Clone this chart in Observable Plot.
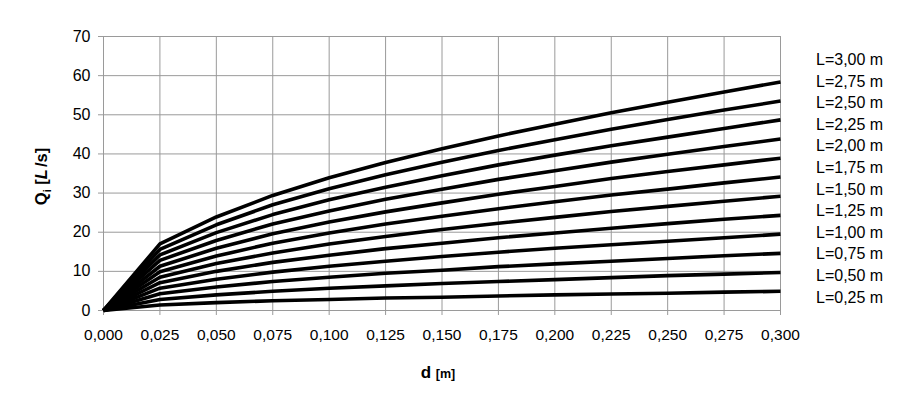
<!DOCTYPE html>
<html>
<head>
<meta charset="utf-8">
<script src="https://cdn.jsdelivr.net/npm/d3@7"></script>
<script src="https://cdn.jsdelivr.net/npm/@observablehq/plot@0.6"></script>
<style>
  html, body { margin: 0; padding: 0; background: #fff; }
  #wrap { position: relative; width: 913px; height: 395px; font-family: "Liberation Sans", Arial, sans-serif; }
  #legend { position: absolute; left: 816px; top: 49px; font-size: 16px; line-height: 21.6px; color: #000; white-space: nowrap; }
</style>
</head>
<body>
<div id="wrap"><div id="legend"></div></div>
<script>
// x values: d [m]
const dValues = [0, 0.025, 0.05, 0.075, 0.1, 0.125, 0.15, 0.175, 0.2, 0.225, 0.25, 0.275, 0.3];
// series names (L in m), top to bottom
const lengthLabels = ["3,00", "2,75", "2,50", "2,25", "2,00", "1,75", "1,50", "1,25", "1,00", "0,75", "0,50", "0,25"];
// Qi [L/s] for each L
const qL300 = [0, 17.0, 23.9, 29.4, 33.9, 37.8, 41.3, 44.6, 47.6, 50.5, 53.2, 55.8, 58.4];
const qL275 = [0, 15.6, 21.9, 27.0, 31.1, 34.7, 37.9, 40.9, 43.6, 46.3, 48.8, 51.2, 53.5];
const qL250 = [0, 14.2, 19.9, 24.5, 28.3, 31.5, 34.4, 37.2, 39.7, 42.1, 44.3, 46.5, 48.7];
const qL225 = [0, 12.8, 17.9, 22.1, 25.4, 28.4, 31.0, 33.5, 35.7, 37.9, 39.9, 41.9, 43.8];
const qL200 = [0, 11.3, 15.9, 19.6, 22.6, 25.2, 27.5, 29.7, 31.7, 33.7, 35.5, 37.2, 38.9];
const qL175 = [0, 9.9, 13.9, 17.2, 19.8, 22.1, 24.1, 26.0, 27.8, 29.5, 31.0, 32.6, 34.1];
const qL150 = [0, 8.5, 12.0, 14.7, 17.0, 18.9, 20.7, 22.3, 23.8, 25.3, 26.6, 27.9, 29.2];
const qL125 = [0, 7.1, 10.0, 12.3, 14.1, 15.8, 17.2, 18.6, 19.8, 21.0, 22.2, 23.3, 24.3];
const qL100 = [0, 5.7, 8.0, 9.8, 11.3, 12.6, 13.8, 14.9, 15.9, 16.8, 17.7, 18.6, 19.5];
const qL075 = [0, 4.3, 6.0, 7.4, 8.5, 9.5, 10.3, 11.2, 11.9, 12.6, 13.3, 14.0, 14.6];
const qL050 = [0, 2.8, 4.0, 4.9, 5.7, 6.3, 6.9, 7.4, 7.9, 8.4, 8.9, 9.3, 9.7];
const qL025 = [0, 1.4, 2.0, 2.5, 2.8, 3.2, 3.4, 3.7, 4.0, 4.2, 4.4, 4.7, 4.9];
// tick values
const xTicks = [0, 0.025, 0.05, 0.075, 0.1, 0.125, 0.15, 0.175, 0.2, 0.225, 0.25, 0.275, 0.3];
const yTicks = [0, 10, 20, 30, 40, 50, 60, 70];

const seriesValues = [qL300, qL275, qL250, qL225, qL200, qL175, qL150, qL125, qL100, qL075, qL050, qL025];
const rows = [];
seriesValues.forEach((vals, i) => {
  vals.forEach((q, j) => rows.push({L: lengthLabels[i], d: dValues[j], q}));
});

const fmtX = d => d3.format(".3f")(d).replace(".", ",");
const gridColor = "#9a9a9a";

const chart = Plot.plot({
  width: 913,
  height: 395,
  marginLeft: 103,
  marginRight: 133,
  marginTop: 36,
  marginBottom: 85,
  style: { fontFamily: "'Liberation Sans', Arial, sans-serif", fontSize: "15.5px", color: "#000", background: "#fff", overflow: "visible" },
  x: { domain: [0, 0.3] },
  y: { domain: [0, 70] },
  marks: [
    Plot.gridX(xTicks, { stroke: gridColor, strokeOpacity: 1, strokeWidth: 1 }),
    Plot.gridY(yTicks, { stroke: gridColor, strokeOpacity: 1, strokeWidth: 1 }),
    Plot.axisX(xTicks, { tickFormat: fmtX, tickSize: 5, tickPadding: 13, stroke: gridColor, fill: "#000", fontSize: 15.5, label: null }),
    Plot.axisY(yTicks, { tickSize: 5, tickPadding: 8, stroke: gridColor, fill: "#000", fontSize: 16, label: null }),
    Plot.line(rows, { x: "d", y: "q", z: "L", stroke: "#000", strokeWidth: 3.6, strokeLinejoin: "round", strokeLinecap: "butt" })
  ]
});

document.getElementById("wrap").prepend(chart);

// axis titles with rich text
const svg = d3.select(chart);
const yLab = svg.append("text")
  .attr("transform", "translate(47,176.5) rotate(-90)")
  .attr("text-anchor", "middle")
  .attr("font-weight", "bold")
  .attr("font-size", 16.5)
  .attr("fill", "#000");
yLab.append("tspan").text("Q");
yLab.append("tspan").attr("font-size", 11).attr("dy", 4).text("i");
yLab.append("tspan").attr("dy", -4).text(" [");
yLab.append("tspan").attr("font-style", "italic").text("L");
yLab.append("tspan").attr("dx", 2).text("/s]");

const xLab = svg.append("text")
  .attr("x", 438)
  .attr("y", 378)
  .attr("text-anchor", "middle")
  .attr("font-weight", "bold")
  .attr("fill", "#000");
xLab.append("tspan").attr("font-size", 17).text("d ");
xLab.append("tspan").attr("font-size", 12.5).text("[m]");

// legend labels
const legend = d3.select("#legend");
lengthLabels.forEach(l => legend.append("div").text("L=" + l + " m"));
</script>
</body>
</html>
